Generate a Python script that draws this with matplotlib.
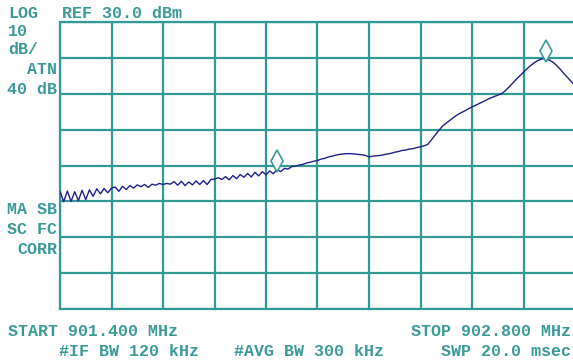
import numpy as np
import matplotlib
matplotlib.use("Agg")
import matplotlib.pyplot as plt
from matplotlib import transforms

# Spectrum analyzer settings
start_mhz = 901.400
stop_mhz = 902.800
ref_dbm = 30.0
db_per_div = 10
n_vdiv = 8
n_hdiv = 10

# Trace values (dBm), one point every 0.01 MHz from START
trace_dbm = [
    -17.2, -20.1, -17.1, -20.0, -17.3, -19.8, -16.9, -19.5, -16.8, -18.6,
    -16.5, -17.9, -16.4, -17.6, -16.3, -16.0, -17.2, -15.8, -16.7, -15.6,
    -16.3, -15.4, -15.9, -15.3, -16.1, -15.2, -15.5, -15.0, -15.3, -15.0,
    -15.2, -14.5, -15.5, -14.4, -15.6, -14.6, -15.4, -14.3, -15.3, -14.2,
    -15.3, -13.9, -13.8, -13.4, -13.9, -13.1, -14.0, -12.8, -13.7, -12.5,
    -13.3, -12.2, -13.2, -11.9, -12.9, -11.7, -12.6, -11.5, -12.3, -11.1,
    -11.7, -10.8, -11.0, -10.3, -10.2, -9.9, -9.7, -9.3, -9.1, -8.8,
    -8.6, -8.2, -8.0, -7.6, -7.4, -7.1, -6.9, -6.8, -6.7, -6.7,
    -6.8, -6.9, -7.0, -7.2, -7.6, -7.4, -7.3, -7.2, -7.0, -6.8,
    -6.6, -6.3, -6.1, -5.8, -5.7, -5.4, -5.3, -5.0, -4.8, -4.5,
    -4.1, -2.8, -1.5, -0.2, 1.0, 1.8, 2.6, 3.4, 4.1, 4.7,
    5.2, 5.8, 6.3, 6.8, 7.3, 7.8, 8.3, 8.8, 9.2, 9.6,
    10.0, 10.8, 11.8, 12.9, 14.0, 15.0, 16.0, 17.0, 17.9, 18.7,
    19.3, 19.7, 19.8, 19.4, 18.8, 17.9, 16.8, 15.6, 14.5, 13.4,
    12.3,
]
freq_mhz = start_mhz + 0.01 * np.arange(len(trace_dbm))

# Marker positions (trace indices)
marker_idx = [59, 132]

grid_col = "#2f9a96"
text_col = "#3a9a98"
trace_col = "#20208c"

W, H = 573, 362
fig = plt.figure(figsize=(W / 100, H / 100), dpi=100)
fig.patch.set_facecolor("white")

# plot area in pixels: left 60, top 22, width 515, height 287
ax = fig.add_axes([60 / W, 1 - 309 / H, 515 / W, 287 / H])
ax.set_xlim(start_mhz, stop_mhz)
ax.set_ylim(ref_dbm - n_vdiv * db_per_div, ref_dbm)
ax.set_xticks(np.linspace(start_mhz, stop_mhz, n_hdiv + 1))
ax.set_yticks(np.arange(ref_dbm - n_vdiv * db_per_div, ref_dbm + 1, db_per_div))
ax.grid(True, color=grid_col, linewidth=1.6)
ax.tick_params(length=0, labelbottom=False, labelleft=False)
for s in ax.spines.values():
    s.set_color(grid_col)
    s.set_linewidth(1.6)

ax.plot(freq_mhz, trace_dbm, color=trace_col, linewidth=1.0, zorder=3)

# diamond markers sit just above the trace
off = transforms.offset_copy(ax.transData, fig=fig, x=0, y=8, units="dots")
for i in marker_idx:
    ax.plot(freq_mhz[i], trace_dbm[i], marker="d", markersize=11,
            markerfacecolor="white", markeredgecolor=text_col,
            markeredgewidth=1.2, transform=off, zorder=4, clip_on=False)

font = dict(family=["Liberation Mono", "DejaVu Sans Mono"], size=12,
            weight="bold", color=text_col, va="center")


def label(x, y, s, ha="left"):
    fig.text(x / W, 1 - y / H, s, ha=ha, **font)


label(8, 13, "LOG")
label(62, 13, "REF 30.0 dBm")
label(8, 31, "10")
label(8, 50, "dB/")
label(57, 70, "ATN", ha="right")
label(57, 89, "40 dB", ha="right")
label(57, 209, "MA SB", ha="right")
label(57, 229, "SC FC", ha="right")
label(57, 249, "CORR", ha="right")
label(8, 331, "START 901.400 MHz")
label(571, 331, "STOP 902.800 MHz", ha="right")
label(59, 351, "#IF BW 120 kHz")
label(234, 351, "#AVG BW 300 kHz")
label(571, 351, "SWP 20.0 msec", ha="right")

fig.savefig("out.png", dpi=100)
